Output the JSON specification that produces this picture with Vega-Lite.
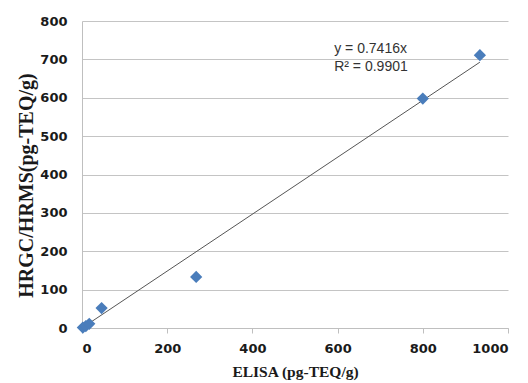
{
  "$schema": "https://vega.github.io/schema/vega-lite/v6.json",
  "width": 426,
  "height": 307,
  "autosize": {"type": "none"},
  "padding": {"left": 82, "top": 21, "right": 20, "bottom": 55},
  "background": "white",
  "config": {"view": {"stroke": null}},
  "datasets": {
    "pts": [
      {"elisa": 2, "hrgc": 1},
      {"elisa": 9, "hrgc": 5},
      {"elisa": 17, "hrgc": 11},
      {"elisa": 46, "hrgc": 52},
      {"elisa": 268, "hrgc": 133},
      {"elisa": 800, "hrgc": 598},
      {"elisa": 934, "hrgc": 711}
    ],
    "trend": [
      {"elisa": 0, "hrgc": 0},
      {"elisa": 934, "hrgc": 692.7}
    ],
    "labels": [
      {"elisa": 592, "hrgc": 728, "txt": "y = 0.7416x"},
      {"elisa": 592, "hrgc": 680, "txt": "R² = 0.9901"}
    ]
  },
  "encoding": {
    "x": {
      "field": "elisa", "type": "quantitative",
      "scale": {"domain": [0, 1000], "nice": false},
      "axis": {
        "values": [0, 200, 400, 600, 800, 1000],
        "format": "d",
        "grid": false,
        "domainColor": "#bfbfbf",
        "tickColor": "#bfbfbf",
        "tickSize": 5,
        "labelPadding": 9,
        "labelFont": "DejaVu Sans",
        "labelFontWeight": "bold",
        "labelFontSize": 13,
        "labelColor": "#1a1a1a",
        "title": "ELISA (pg-TEQ/g)",
        "titleFont": "Liberation Serif",
        "titleFontWeight": "bold",
        "titleFontSize": 15.5,
        "titleColor": "#1a1a1a",
        "titleBaseline": "top",
        "titleY": 36
      }
    },
    "y": {
      "field": "hrgc", "type": "quantitative",
      "scale": {"domain": [0, 800], "nice": false},
      "axis": {
        "values": [0, 100, 200, 300, 400, 500, 600, 700, 800],
        "labelOverlap": false,
        "grid": true,
        "gridColor": "#c4c4c4",
        "gridWidth": 1,
        "domainColor": "#bfbfbf",
        "ticks": false,
        "labelPadding": 15,
        "labelFont": "DejaVu Sans",
        "labelFontWeight": "bold",
        "labelFontSize": 13,
        "labelColor": "#1a1a1a",
        "title": "HRGC/HRMS(pg-TEQ/g)",
        "titleFont": "Liberation Serif",
        "titleFontWeight": "bold",
        "titleFontSize": 20,
        "titleColor": "#1a1a1a",
        "titleX": -46,
        "titleY": 164
      }
    }
  },
  "layer": [
    {
      "data": {"name": "trend"},
      "mark": {"type": "line", "color": "#555555", "strokeWidth": 1}
    },
    {
      "data": {"name": "pts"},
      "mark": {"type": "point", "shape": "diamond", "filled": true, "color": "#4a7dbb", "size": 150, "opacity": 1}
    },
    {
      "data": {"name": "labels"},
      "mark": {"type": "text", "align": "left", "baseline": "middle", "font": "Liberation Sans", "fontSize": 14, "color": "#333333"},
      "encoding": {
        "text": {"field": "txt"}
      }
    }
  ]
}
